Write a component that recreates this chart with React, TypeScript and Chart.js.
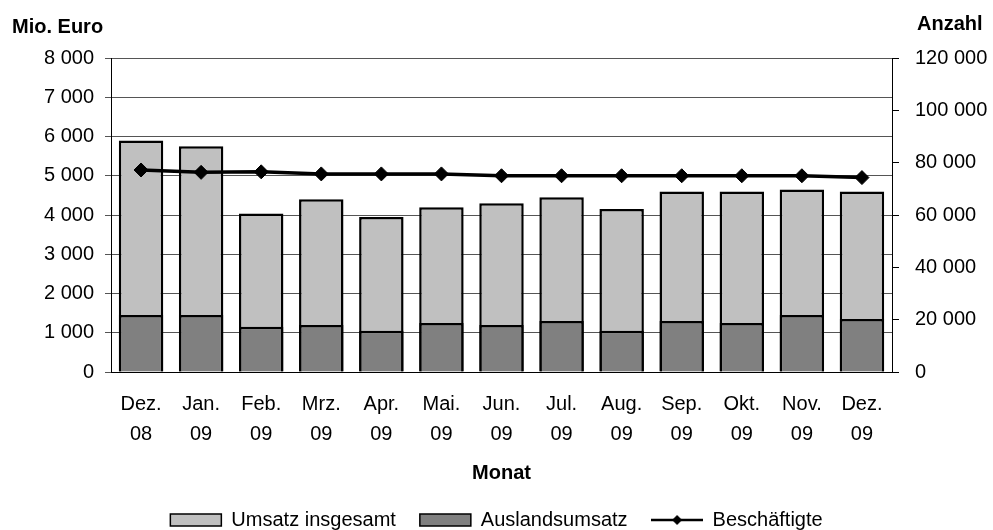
import React, { useEffect, useRef } from "react";
import { Chart, registerables } from "chart.js";

Chart.register(...registerables);

const categories: string[][] = [
  ["Dez.", "08"], ["Jan.", "09"], ["Feb.", "09"], ["Mrz.", "09"], ["Apr.", "09"],
  ["Mai.", "09"], ["Jun.", "09"], ["Jul.", "09"], ["Aug.", "09"], ["Sep.", "09"],
  ["Okt.", "09"], ["Nov.", "09"], ["Dez.", "09"],
];
const umsatzInsgesamt = [5900, 5750, 4040, 4400, 3950, 4200, 4300, 4450, 4150, 4600, 4600, 4650, 4600];
const auslandsumsatz = [1450, 1450, 1150, 1200, 1050, 1250, 1200, 1300, 1050, 1300, 1250, 1450, 1350];
const beschaeftigte = [77200, 76300, 76500, 75700, 75700, 75700, 75000, 75000, 75000, 75000, 75000, 75000, 74300];

const seriesNames = ["Umsatz insgesamt", "Auslandsumsatz", "Beschäftigte"];
const leftTitle = "Mio. Euro";
const rightTitle = "Anzahl";
const xTitle = "Monat";

const FONT = '"Liberation Sans", Arial, sans-serif';

const fmt = (v: number | string) =>
  String(v).replace(/\B(?=(\d{3})+(?!\d))/g, " ");

function makeLineLegendIcon(): HTMLCanvasElement {
  const c = document.createElement("canvas");
  c.width = 52;
  c.height = 12;
  const ctx = c.getContext("2d")!;
  ctx.strokeStyle = "#000";
  ctx.lineWidth = 2.5;
  ctx.beginPath();
  ctx.moveTo(0, 6);
  ctx.lineTo(52, 6);
  ctx.stroke();
  ctx.fillStyle = "#000";
  ctx.beginPath();
  ctx.moveTo(26, 1);
  ctx.lineTo(31, 6);
  ctx.lineTo(26, 11);
  ctx.lineTo(21, 6);
  ctx.closePath();
  ctx.fill();
  return c;
}

const axisTitlesPlugin = {
  id: "axisTitles",
  afterDraw(chart: any) {
    const ctx = chart.ctx;
    ctx.save();
    ctx.fillStyle = "#000";
    ctx.font = `bold 20px ${FONT}`;
    ctx.textBaseline = "alphabetic";
    ctx.textAlign = "left";
    ctx.fillText(leftTitle, 12, 33);
    const y1 = chart.scales.y1;
    ctx.fillText(rightTitle, y1.left + 25, 30);
    ctx.restore();
  },
};

export default function App() {
  const ref = useRef<HTMLCanvasElement | null>(null);

  useEffect(() => {
    if (!ref.current) return;
    const lineIcon = makeLineLegendIcon();
    const chart = new Chart(ref.current, {
      type: "bar",
      data: {
        labels: categories,
        datasets: [
          {
            type: "bar",
            label: seriesNames[0],
            data: umsatzInsgesamt,
            backgroundColor: "#C0C0C0",
            borderColor: "#000",
            borderWidth: 2.5,
            yAxisID: "y",
            order: 3,
            grouped: false,
            barPercentage: 0.74,
            categoryPercentage: 1,
          } as any,
          {
            type: "bar",
            label: seriesNames[1],
            data: auslandsumsatz,
            backgroundColor: "#808080",
            borderColor: "#000",
            borderWidth: 2.5,
            yAxisID: "y",
            order: 2,
            grouped: false,
            barPercentage: 0.74,
            categoryPercentage: 1,
          } as any,
          {
            type: "line",
            label: seriesNames[2],
            data: beschaeftigte,
            borderColor: "#000",
            backgroundColor: "#000",
            borderWidth: 3.5,
            pointStyle: "rectRot",
            pointRadius: 7,
            pointBackgroundColor: "#000",
            pointBorderColor: "#000",
            pointBorderWidth: 1,
            tension: 0,
            yAxisID: "y1",
            order: 1,
          } as any,
        ],
      },
      options: {
        responsive: false,
        animation: false,
        layout: { padding: { top: 58, left: 0, right: 0, bottom: -10 } },
        font: { family: FONT, size: 20 },
        plugins: {
          tooltip: { enabled: false },
          legend: {
            position: "bottom",
            labels: {
              usePointStyle: true,
              pointStyleWidth: 51,
              boxHeight: 12,
              padding: 24,
              color: "#000",
              font: { family: FONT, size: 20 },
              sort: (a: any, b: any) => a.datasetIndex - b.datasetIndex,
              generateLabels: (ch: any) => {
                const items = Chart.defaults.plugins.legend.labels.generateLabels(ch);
                return items.map((it: any) => {
                  if (it.datasetIndex === 2) {
                    return { ...it, pointStyle: lineIcon, lineWidth: 0 };
                  }
                  return { ...it, pointStyle: "rect", lineWidth: 1.5, strokeStyle: "#000" };
                });
              },
            },
          },
        },
        scales: {
          x: {
            offset: true,
            grid: { display: false, drawTicks: false },
            border: { display: true, color: "#000", width: 1 },
            ticks: {
              color: "#000",
              padding: 17,
              maxRotation: 0,
              autoSkip: false,
              font: { family: FONT, size: 20, lineHeight: 1.5 },
            },
            title: {
              display: true,
              text: xTitle,
              color: "#000",
              font: { family: FONT, size: 20, weight: "bold" },
              padding: { top: 0, bottom: 1 },
            },
            afterFit: (s: any) => {
              s.height = 114;
            },
          },
          y: {
            position: "left",
            min: 0,
            max: 8000,
            ticks: {
              stepSize: 1000,
              color: "#000",
              padding: 11,
              font: { family: FONT, size: 20 },
              callback: (v: any) => fmt(v),
            },
            grid: { color: "#555", lineWidth: 1, tickLength: 6, drawTicks: true },
            border: { display: true, color: "#000", width: 1 },
            afterFit: (s: any) => {
              s.width = 111;
            },
          },
          y1: {
            position: "right",
            min: 0,
            max: 120000,
            ticks: {
              stepSize: 20000,
              color: "#000",
              padding: 16,
              font: { family: FONT, size: 20 },
              callback: (v: any) => fmt(v),
            },
            grid: { drawOnChartArea: false, color: "#000", tickLength: 7, drawTicks: true },
            border: { display: true, color: "#000", width: 1 },
            afterFit: (s: any) => {
              s.width = 101;
            },
          },
        },
      } as any,
      plugins: [axisTitlesPlugin],
    });
    return () => chart.destroy();
  }, []);

  return (
    <div style={{ position: "absolute", left: 0, top: 0, width: 993, height: 530, background: "#fff" }}>
      <canvas ref={ref} width={993} height={530} style={{ display: "block" }} />
    </div>
  );
}
